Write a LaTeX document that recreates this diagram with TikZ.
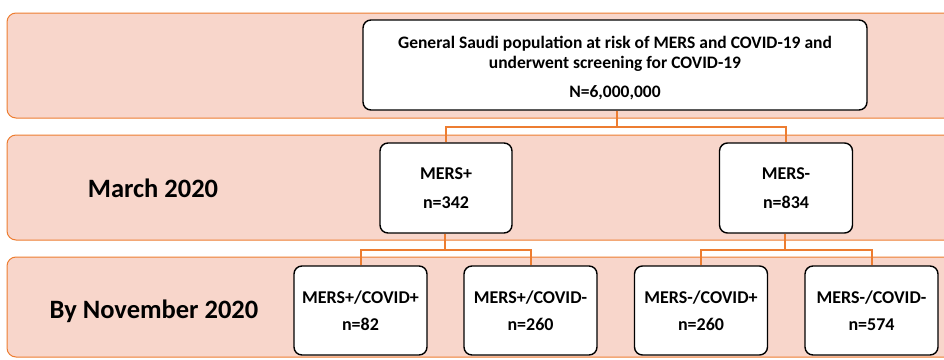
\documentclass[tikz,border=0pt]{standalone}
\usepackage{fontspec}
\setmainfont{Carlito}[BoldFont={Carlito Bold}]
\definecolor{bandfill}{RGB}{248,214,203}
\definecolor{bandline}{RGB}{237,125,49}
\begin{document}
\begin{tikzpicture}[x=1pt,y=-1pt,
  band/.style={draw=bandline,fill=bandfill,line width=1pt,rounded corners=9pt},
  box/.style={draw=black,fill=white,line width=1.4pt,rounded corners=8pt,align=center,inner sep=0pt},
  topbox/.style={box,font=\bfseries\fontsize{17.5}{19.4}\selectfont},
  midbox/.style={box,font=\bfseries\fontsize{18}{29}\selectfont},
  lowbox/.style={box,font=\bfseries\fontsize{18}{27}\selectfont},
  conn/.style={draw=bandline,line width=2pt},
  lab/.style={font=\bfseries\fontsize{26.5}{30}\selectfont}]
\useasboundingbox (0,0) rectangle (944,359);
\path[band] (7,13) rectangle (960,118);
\path[band] (7,135) rectangle (960,240);
\path[band] (7,257) rectangle (960,357);
\node[lab] (l1) at (153,188) {March 2020};
\node[lab] (l2) at (154,311) {By November 2020};
\node[topbox,minimum width=504pt,minimum height=90pt] (top) at (615,65) {\rule{0pt}{19pt}General Saudi population at risk of MERS and COVID-19 and\\ underwent screening for COVID-19\\[10.5pt] N=6,000,000};
\node[midbox,minimum width=132pt,minimum height=90pt] (mp) at (446,188) {MERS+\\ n=342};
\node[midbox,minimum width=133pt,minimum height=90pt] (mm) at (786,188) {MERS-\\ n=834};
\node[lowbox,minimum width=133pt,minimum height=89pt] (b1) at (360.5,310.5) {MERS+/COVID+\\ n=82};
\node[lowbox,minimum width=133pt,minimum height=89pt] (b2) at (530.5,310.5) {MERS+/COVID-\\ n=260};
\node[lowbox,minimum width=133pt,minimum height=89pt] (b3) at (701,310.5) {MERS-/COVID+\\ n=260};
\node[lowbox,minimum width=133pt,minimum height=89pt] (b4) at (871.5,310.5) {MERS-/COVID-\\ n=574};
\coordinate (j1) at (617,127);
\coordinate (j2) at (445,250);
\coordinate (j3) at (785,250);
\draw[conn] (top.south -| j1) -- (j1);
\draw[conn] (mp.north) |- (j1) -| (mm.north);
\draw[conn] (mp.south -| j2) -- (j2);
\draw[conn] (b1.north) |- (j2) -| (b2.north);
\draw[conn] (mm.south -| j3) -- (j3);
\draw[conn] (b3.north) |- (j3) -| (b4.north);
\end{tikzpicture}
\end{document}
